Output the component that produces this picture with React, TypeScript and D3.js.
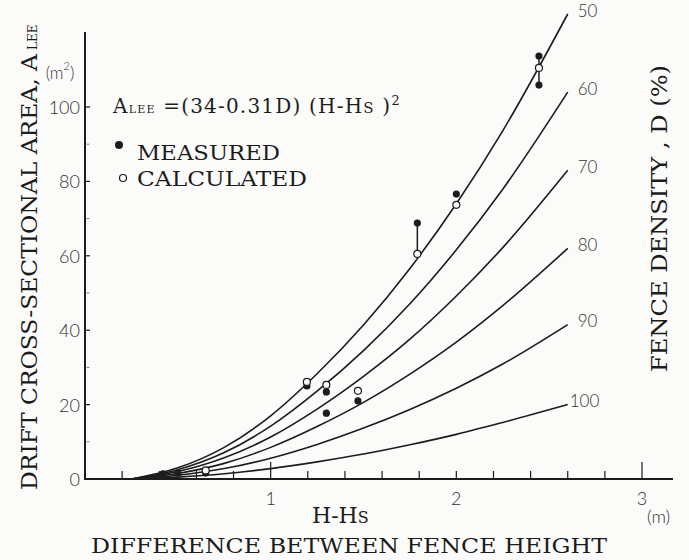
import React from "react";
import * as d3 from "d3";

// ---- data ----
const densities = [50, 60, 70, 80, 90, 100];
const curveX = [0.25, 0.5, 0.75, 1.0, 1.25, 1.5, 1.75, 2.0, 2.25, 2.6];
const curve50 = [0, 3.0, 8.5, 17.0, 28.3, 41.4, 56.6, 74.0, 93.6, 125];
const curve60 = [0, 2.5, 7.1, 14.2, 23.6, 34.5, 47.1, 61.6, 77.9, 104];
const curve70 = [0, 2.0, 5.7, 11.3, 18.8, 27.6, 37.6, 49.2, 62.2, 83];
const curve80 = [0, 1.5, 4.2, 8.5, 14.1, 20.6, 28.2, 36.8, 46.6, 62];
const curve90 = [0, 1.0, 2.8, 5.6, 9.3, 13.7, 18.7, 24.4, 30.9, 41.5];
const curve100 = [0, 0.5, 1.4, 2.8, 4.6, 6.7, 9.2, 12.0, 15.2, 20];
const curves = [curve50, curve60, curve70, curve80, curve90, curve100];

const measuredX = [0.42, 0.5, 0.65, 1.195, 1.3, 1.3, 1.47, 1.79, 2.0, 2.445, 2.445];
const measuredA = [1.4, 1.6, 1.6, 25.0, 23.4, 17.7, 21.0, 68.8, 76.6, 113.7, 105.9];
const calculatedX = [0.65, 1.195, 1.3, 1.47, 1.79, 2.0, 2.445];
const calculatedA = [2.3, 26.1, 25.3, 23.7, 60.5, 73.7, 110.5];
// vertical connectors: [x, a1, a2]
const connectorX = [1.79, 2.445, 0.65];
const connectorLo = [60.5, 105.9, 1.6];
const connectorHi = [68.8, 113.7, 2.3];

const yMajor = [0, 20, 40, 60, 80, 100];
const yMinor = [10, 30, 50, 70, 90];
const xTickLabels = ["1", "2", "3"];

const W = 689;
const H = 560;
const INK = "#1c1c1c";
const SERIF = "'DejaVu Serif', 'Liberation Serif', serif";
const SANS = "Lato, 'Open Sans', 'DejaVu Sans', sans-serif";

export default function App() {
  const x = d3.scaleLinear().domain([0, 3]).range([85, 642]);
  const y = d3.scaleLinear().domain([0, 100]).range([479, 107]);
  const line = d3
    .line<[number, number]>()
    .x((d) => x(d[0]))
    .y((d) => y(d[1]))
    .curve(d3.curveMonotoneX);

  const xMinorTicks = d3.range(1, 16).map((i) => i * 0.2);
  const x0 = x(0);
  const y0 = y(0);

  return (
    <svg
      width={W}
      height={H}
      style={{ position: "absolute", left: 0, top: 0 }}
      xmlns="http://www.w3.org/2000/svg"
    >
      <rect x={0} y={0} width={W} height={H} fill="#fbfbf9" />

      {/* axes */}
      <line x1={x0} y1={32} x2={x0} y2={y0 + 1} stroke={INK} strokeWidth={2} />
      <line x1={x0 - 1} y1={y0} x2={673} y2={y0} stroke={INK} strokeWidth={2} />

      {/* y ticks */}
      {yMajor.map((v) => (
        <g key={"ym" + v}>
          {v > 0 && <line x1={x0} x2={x0 + 5} y1={y(v)} y2={y(v)} stroke={INK} strokeWidth={1.2} />}
          <text
            x={80}
            y={y(v)}
            textAnchor="end"
            dominantBaseline="central"
            fontFamily={SANS}
            fontWeight={300}
            fontSize={18}
            fill="#333"
          >
            {v}
          </text>
        </g>
      ))}
      {yMinor.map((v) => (
        <line
          key={"yn" + v}
          x1={x0}
          x2={x0 + 5}
          y1={y(v)}
          y2={y(v)}
          stroke={INK}
          strokeWidth={1}
          strokeDasharray="1.2,1.2"
        />
      ))}
      <text x={60} y={72} textAnchor="middle" dominantBaseline="central" fontFamily={SANS} fontWeight={300} fontSize={17} fill="#333">
        (m<tspan dy={-7} fontSize={11}>2</tspan>
        <tspan dy={7}>)</tspan>
      </text>

      {/* x ticks */}
      {xMinorTicks.map((v) => {
        const big = Math.abs(v - 1) < 1e-6 || Math.abs(v - 3) < 1e-6;
        return (
          <line
            key={"xt" + v}
            x1={x(v)}
            x2={x(v)}
            y1={y0}
            y2={y0 - (big ? 17 : 8)}
            stroke={INK}
            strokeWidth={1.2}
          />
        );
      })}
      {xTickLabels.map((t, i) => (
        <text
          key={"xl" + t}
          x={x(i + 1)}
          y={498}
          textAnchor="middle"
          dominantBaseline="central"
          fontFamily={SANS}
          fontWeight={300}
          fontSize={18}
          fill="#333"
        >
          {t}
        </text>
      ))}
      <text x={647} y={516} dominantBaseline="central" fontFamily={SANS} fontWeight={300} fontSize={18} fill="#333">
        (m)
      </text>

      {/* curves */}
      {curves.map((vals, i) => {
        const pts: [number, number][] = curveX.map((cx, j) => [cx, vals[j]]);
        const endX = x(curveX[curveX.length - 1]);
        const endY = y(vals[vals.length - 1]);
        const d = densities[i];
        return (
          <g key={"c" + d}>
            <path d={line(pts) || ""} fill="none" stroke={INK} strokeWidth={1.6} />
            <text
              x={d === 100 ? endX + 2 : endX + 10}
              y={endY - 4}
              dominantBaseline="central"
              fontFamily={SANS}
              fontWeight={300}
              fontSize={17}
              fill="#333"
            >
              {d}
            </text>
          </g>
        );
      })}

      {/* connectors */}
      {connectorX.map((cx, i) => (
        <line
          key={"cn" + i}
          x1={x(cx)}
          x2={x(cx)}
          y1={y(connectorLo[i])}
          y2={y(connectorHi[i])}
          stroke={INK}
          strokeWidth={1.5}
        />
      ))}

      {/* measured points */}
      {measuredX.map((mx, i) => (
        <circle key={"m" + i} cx={x(mx)} cy={y(measuredA[i])} r={3.6} fill={INK} />
      ))}
      {/* calculated points */}
      {calculatedX.map((cx, i) => (
        <circle
          key={"k" + i}
          cx={x(cx)}
          cy={y(calculatedA[i])}
          r={3.5}
          fill="#fbfbf9"
          stroke={INK}
          strokeWidth={1.2}
        />
      ))}

      {/* formula */}
      <text x={113} y={113} fontFamily={SERIF} fontSize={20} fill={INK} letterSpacing={1.2}>
        A<tspan fontSize={11}>LEE</tspan>
        <tspan> =(34-0.31D) (H-H</tspan>
        <tspan fontSize={15}>S</tspan>
        <tspan> )</tspan>
        <tspan dy={-8} fontSize={13}>2</tspan>
      </text>

      {/* legend */}
      <circle cx={119} cy={145} r={4} fill={INK} />
      <text x={137} y={160} fontFamily={SERIF} fontSize={20} fill={INK} textLength={143} lengthAdjust="spacingAndGlyphs">
        MEASURED
      </text>
      <circle cx={123} cy={178} r={3.5} fill="none" stroke={INK} strokeWidth={1.2} />
      <text x={137} y={186} fontFamily={SERIF} fontSize={20} fill={INK} textLength={170} lengthAdjust="spacingAndGlyphs">
        CALCULATED
      </text>

      {/* x axis titles */}
      <text x={312} y={523} fontFamily={SERIF} fontSize={22} fill={INK}>
        H-H<tspan fontSize={16}>S</tspan>
      </text>
      <text x={91} y={553} fontFamily={SERIF} fontSize={21} fill={INK} textLength={516} lengthAdjust="spacingAndGlyphs">
        DIFFERENCE BETWEEN FENCE  HEIGHT
      </text>

      {/* y axis title */}
      <g transform="translate(37,490) rotate(-90)">
        <text x={0} y={0} fontFamily={SERIF} fontSize={22} fill={INK} textLength={436} lengthAdjust="spacingAndGlyphs">
          DRIFT CROSS-SECTIONAL AREA, A
        </text>
        <text x={440} y={0} fontFamily={SERIF} fontSize={12} fill={INK}>
          LEE
        </text>
      </g>

      {/* right title */}
      <g transform="translate(667,372) rotate(-90)">
        <text x={0} y={0} fontFamily={SERIF} fontSize={22} fill={INK} textLength={307} lengthAdjust="spacingAndGlyphs">
          FENCE DENSITY , D (%)
        </text>
      </g>
    </svg>
  );
}
